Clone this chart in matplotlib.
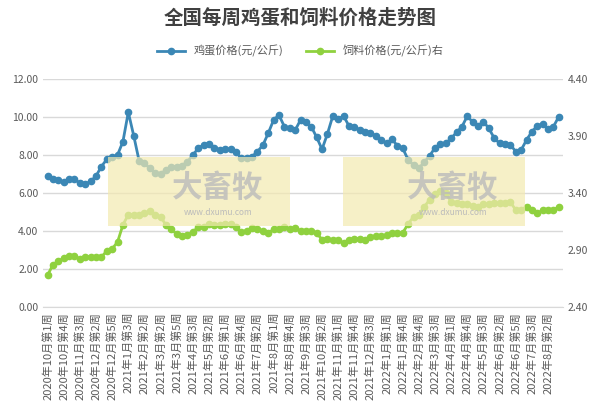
import matplotlib
matplotlib.use("Agg")
import matplotlib.pyplot as plt
from matplotlib.patches import Rectangle

plt.rcParams['font.family'] = ['Noto Sans CJK SC', 'DejaVu Sans']

egg = [6.89,6.74,6.68,6.58,6.74,6.74,6.51,6.46,6.61,6.89,7.39,7.77,7.88,8.0,8.70,10.25,9.02,7.70,7.56,7.30,
       7.04,7.0,7.21,7.39,7.39,7.44,7.65,8.0,8.35,8.53,8.6,8.39,8.26,8.3,8.3,8.16,7.82,7.86,7.91,8.18,
       8.51,9.14,9.84,10.1,9.49,9.4,9.3,9.84,9.72,
       9.49,8.93,8.30,9.11,10.05,9.88,10.05,9.53,9.46,9.32,9.19,9.14,9.02,8.79,8.61,8.82,8.49,8.35,7.74,7.47,
       7.30,7.63,7.95,8.39,8.56,8.61,8.88,9.19,9.49,10.05,9.72,9.53,9.75,9.40,8.88,8.61,8.56,8.53,8.18,8.26,
       8.79,9.23,9.53,9.63,9.35,9.49,10.02]
feed = [2.68,2.77,2.80,2.83,2.85,2.85,2.82,2.84,2.84,2.84,2.84,2.89,2.91,2.97,3.12,3.21,3.21,3.21,3.22,3.24,
        3.21,3.19,3.12,3.08,3.04,3.02,3.03,3.06,3.10,3.10,3.13,3.12,3.12,3.13,3.13,3.10,3.06,3.07,3.09,3.08,
        3.07,3.05,3.08,3.08,3.10,3.08,3.09,3.07,3.07,
        3.07,3.05,2.99,3.00,2.99,2.99,2.96,2.99,3.00,3.00,2.99,3.01,3.02,3.02,3.03,3.05,3.05,3.05,3.13,3.19,
        3.21,3.28,3.34,3.39,3.42,3.40,3.32,3.31,3.30,3.30,3.29,3.28,3.30,3.30,3.31,3.31,3.31,3.32,3.25,3.25,
        3.28,3.25,3.22,3.25,3.25,3.25,3.28]
tick_labels = ["2020年10月第1周","2020年10月第4周","2020年11月第3周","2020年12月第2周","2020年12月第5周",
    "2021年1月第3周","2021年2月第2周","2021年3月第2周","2021年3月第5周","2021年4月第3周","2021年5月第2周",
    "2021年6月第1周","2021年6月第4周","2021年7月第2周","2021年8月第1周","2021年8月第4周","2021年9月第3周",
    "2021年10月第2周","2021年11月第1周","2021年11月第4周","2021年12月第3周","2022年1月第1周","2022年1月第4周",
    "2022年2月第4周","2022年3月第3周","2022年4月第1周","2022年4月第4周","2022年5月第3周","2022年6月第2周",
    "2022年6月第5周","2022年7月第3周","2022年8月第2周"]

blue = '#3b87b5'
green = '#8fd13f'
fig = plt.figure(figsize=(6.01, 4.11), dpi=100)
ax = fig.add_axes([0.072, 0.253, 0.865, 0.555])
ax2 = ax.twinx()
x = list(range(len(egg)))
ax.plot(x, egg, color=blue, lw=2, marker='o', ms=4.5, label='鸡蛋价格(元/公斤)', zorder=3)
ax2.plot(x, feed, color=green, lw=2, marker='o', ms=4.5, label='饲料价格(元/公斤)右', zorder=3)
ax.set_ylim(0, 12)
ax.set_yticks(range(0, 13, 2))
ax.set_yticklabels([f"{v:.2f}" for v in range(0, 13, 2)])
ax2.set_ylim(2.4, 4.4)
ax2.set_yticks([2.4, 2.9, 3.4, 3.9, 4.4])
ax2.set_yticklabels(["2.40", "2.90", "3.40", "3.90", "4.40"])
ax.set_xlim(-0.8, len(egg) - 0.2)
ax.set_xticks(range(0, 3 * len(tick_labels), 3))
ax.set_xticklabels(tick_labels, rotation=90, fontsize=8, color='#595959')
ax.grid(axis='y', color='#d9d9d9', lw=1)
ax.set_axisbelow(True)
for a in (ax, ax2):
    for s in a.spines.values():
        s.set_visible(False)
    a.tick_params(length=0, labelsize=7.5, colors='#595959')
ax.tick_params(axis='x', labelsize=8)
ax.spines['bottom'].set_visible(True)
ax.spines['bottom'].set_color('#d9d9d9')

for x0 in (108, 343):
    fig.patches.append(Rectangle((x0 / 601, 1 - 226 / 411), 182 / 601, 69 / 411, transform=fig.transFigure,
                                 facecolor='#f3eab0', alpha=0.7, edgecolor='none', zorder=5))
    fig.text((x0 + 110) / 601, 1 - 188 / 411, '大畜牧', fontsize=22, color='#bbbbbb', ha='center', va='center',
             fontweight='bold', alpha=0.8, zorder=6)
    fig.text((x0 + 110) / 601, 1 - 212 / 411, 'www.dxumu.com', fontsize=6, color='#bbbbbb', ha='center', va='center', zorder=6)

fig.text(0.5, 1 - 18 / 411, '全国每周鸡蛋和饲料价格走势图', ha='center', va='center', fontsize=14,
         fontweight='bold', color='#404040')
h1, l1 = ax.get_legend_handles_labels()
h2, l2 = ax2.get_legend_handles_labels()
fig.legend(h1 + h2, l1 + l2, loc='center', bbox_to_anchor=(0.5, 1 - 51 / 411), ncol=2, frameon=False,
           fontsize=8, labelcolor='#595959', handlelength=2.5)
fig.savefig('out.png', dpi=100)
